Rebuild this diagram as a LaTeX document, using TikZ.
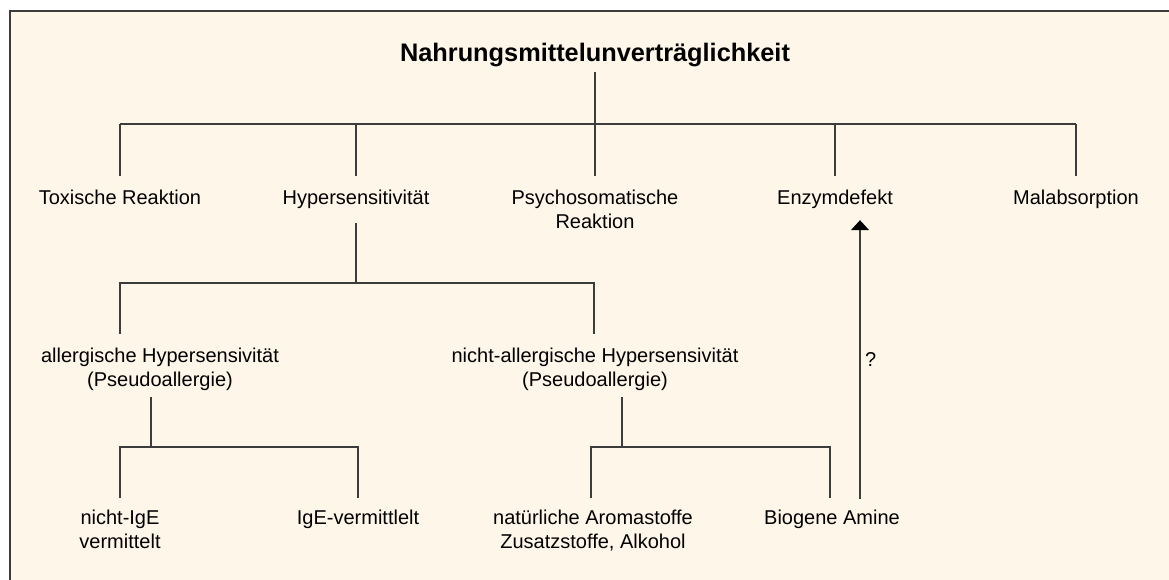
\documentclass[tikz,border=0pt]{standalone}
\usepackage{fontspec}
\setmainfont{Liberation Sans}
\usetikzlibrary{arrows.meta,calc}
\definecolor{creme}{RGB}{254,247,233}
\definecolor{strich}{RGB}{60,60,60}
\tikzset{
	txt/.style={anchor=north, inner sep=0pt, align=center},
	titel/.style={anchor=base, inner sep=0pt, font=\fontsize{19}{23}\selectfont\bfseries},
	ast/.style={draw=strich, line width=0.9pt},
	rahmen/.style={draw=strich, line width=1.2pt}
}
\begin{document}
\begin{tikzpicture}[x=0.75pt, y=-0.75pt, >={Triangle[width=13.5pt,length=7.5pt,color=black]}, font=\fontsize{15}{18}\selectfont]
	\useasboundingbox (0,0) rectangle (1169,580);
	\fill[creme] (10,11) rectangle (1169,580);
	\draw[rahmen] (10,580)--(10,11)--(1169,11);
	\node[titel] (nmu) at (595,62) {Nahrungsmittelunverträglichkeit};
	% erste Ebene
	\node[txt] (tox) at (120,190) {Toxische Reaktion};
	\node[txt] (hyp) at (356,190) {Hypersensitivität};
	\node[txt] (psy) at (595,190) {Psychosomatische\\Reaktion};
	\node[txt] (enz) at (835,190) {Enzymdefekt};
	\node[txt] (mal) at (1076,190) {Malabsorption};
	\coordinate (b1) at (595,124);
	\draw[ast] ([yshift=-3pt]nmu.south)--(b1);
	\draw[ast] (tox.north |- b1)--(mal.north |- b1);
	\foreach \n in {tox,hyp,psy,enz,mal}
		\draw[ast] (\n.north |- b1)--($(\n.north)+(0,-14)$);
	% zweite Ebene
	\node[txt] (all) at (160,348) {allergische Hypersensivität\\(Pseudoallergie)};
	\node[txt] (nall) at (595,348) {nicht-allergische Hypersensivität\\(Pseudoallergie)};
	\coordinate (b2l) at (120,283);
	\coordinate (b2r) at (594,283);
	\draw[ast] ($(hyp.south)+(0,14)$)--(hyp.south |- b2l);
	\draw[ast] ($(b2l |- all.north)+(0,-14)$)--(b2l)--(b2r)--($(b2r |- nall.north)+(0,-14)$);
	% dritte Ebene
	\node[txt] (nige) at (120,510) {nicht-IgE\\vermittelt};
	\node[txt] (ige) at (358,510) {IgE-vermittlelt};
	\node[txt] (aro) at (593,510) {natürliche Aromastoffe\\Zusatzstoffe, Alkohol};
	\node[txt] (bio) at (832,510) {Biogene Amine};
	\coordinate (b3l) at (151,447);
	\coordinate (b3r) at (622,447);
	\draw[ast] ($(all.south)+(-9,6)$)--(b3l);
	\draw[ast] ($(nige.north)+(0,-12)$)--(nige.north |- b3l)--(ige.north |- b3l)--($(ige.north)+(0,-12)$);
	\draw[ast] ($(nall.south)+(27,6)$)--(b3r);
	\draw[ast] ($(aro.north)+(-2,-12)$)--($(aro.north |- b3l)+(-2,0)$)--($(bio.north |- b3r)+(-2,0)$)--($(bio.north)+(-2,-12)$);
	\draw[ast,->] ($(bio.north)+(28,-11)$)--node[right] (frage) {?} ($(enz.south)+(25,11)$);
\end{tikzpicture}
\end{document}
